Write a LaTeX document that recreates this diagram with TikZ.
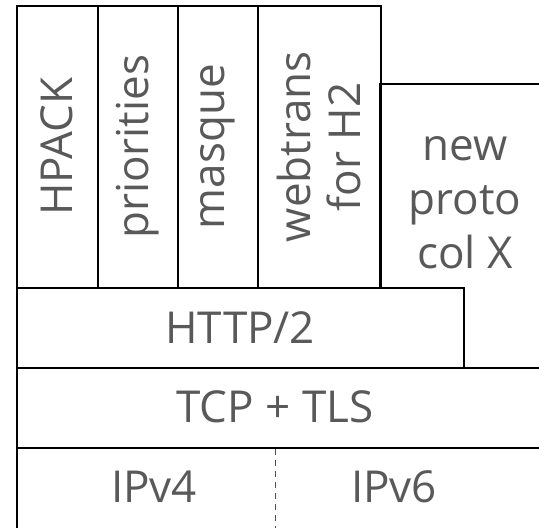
\documentclass[tikz,border=0pt]{standalone}
\usepackage{fontspec}
\setmainfont{Open Sans}
\definecolor{txt}{HTML}{595959}
\begin{document}
\begin{tikzpicture}[x=1pt,y=-1pt,
  layer/.style={draw=black, line width=1.5pt, inner sep=0pt, anchor=north west,
    text=txt, font=\fontsize{44}{52}\selectfont, align=center},
  edge/.style={draw=black, line width=1.5pt},
  vtext/.style={rotate=90, text=txt, font=\fontsize{44}{50}\selectfont, align=center, inner sep=0pt},
  htext/.style={text=txt, font=\fontsize{44}{54}\selectfont, align=center, inner sep=0pt}]
\useasboundingbox (0,0) rectangle (539,528);
\fill[white] (0,0) rectangle (539,528);
\clip (0,0) rectangle (539,528);
% columns
\node[layer, minimum width=81pt, minimum height=282pt] (hpack) at (16,5) {};
\node[layer, minimum width=80pt, minimum height=282pt] (prio) at (97,5) {};
\node[layer, minimum width=80pt, minimum height=282pt] (masque) at (177,5) {};
\node[layer, minimum width=123pt, minimum height=282pt] (webt) at (257,5) {};
\node[layer, draw=none, minimum width=180pt, minimum height=203pt] (newp) at (380,84) {};
\draw[edge] (newp.south west) -- (newp.north west) -- (newp.north east);
\node[vtext] (hpackt) at (hpack.center) {HPACK};
\node[vtext] (priot) at (prio.center) {priorities};
\node[vtext] (masquet) at (masque.center) {masque};
\node[vtext] (webtt) at (webt.center) {webtrans\\for H2};
\node[htext] (newpt) at (465,203) {new\\proto\\col X};
% stacked layers
\node[layer, minimum width=447pt, minimum height=80pt] (http) at (16,287) {HTTP/2};
\node[layer, minimum width=544pt, minimum height=80pt] (tcp) at (16,367) {};
\node[htext] (tcpt) at (275,407) {TCP + TLS};
\node[layer, minimum width=544pt, minimum height=100pt] (ip) at (16,447) {};
\node[htext] (ipv4) at (154,487) {IPv4};
\node[htext] (ipv6) at (394,487) {IPv6};
\coordinate (d1) at (275,449);
\coordinate (d2) at (275,528);
\draw[dashed, line width=0.9pt, color=black!70, dash pattern=on 6pt off 5pt] (d1) -- (d2);
\end{tikzpicture}
\end{document}
